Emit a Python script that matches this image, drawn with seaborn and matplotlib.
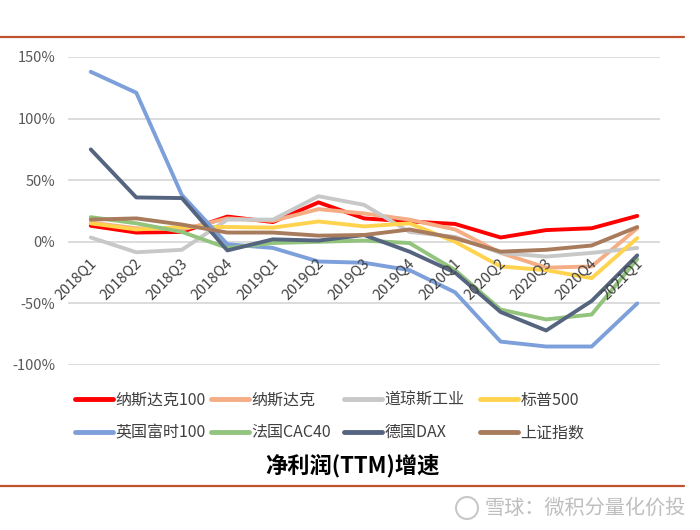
import matplotlib
matplotlib.use("Agg")
import matplotlib.pyplot as plt
import matplotlib.transforms as mtransforms
from matplotlib.lines import Line2D
from matplotlib.patches import Ellipse
import seaborn as sns
import pandas as pd

quarters = ['2018Q1', '2018Q2', '2018Q3', '2018Q4', '2019Q1', '2019Q2', '2019Q3',
            '2019Q4', '2020Q1', '2020Q2', '2020Q3', '2020Q4', '2021Q1']

nasdaq100 = [13, 7.5, 8, 20.5, 16, 32, 19, 16.5, 14.5, 3.5, 9.5, 11, 21]
nasdaq = [15.5, 11, 10, 19, 17, 26.5, 23, 18, 10, -9, -21, -20, 11]
dow = [3.5, -8.5, -6.5, 18, 18, 37, 30, 8, 4, -9, -12, -9, -5]
sp500 = [15, 10, 12, 12, 11.5, 16.5, 12.5, 15, 0, -20, -23, -29.5, 3]
ftse100 = [138, 121, 38, -2, -5, -16, -17, -23, -41, -81, -85, -85, -50]
cac40 = [20, 15, 8, -5, -1, 0, 1, -1, -23, -55, -63, -59, -14]
dax = [75, 36, 35.5, -7, 2, 1, 5.5, -8, -25, -57, -72, -48, -11]
sse = [18, 19, 14, 7.5, 7.5, 5, 5.5, 10, 3, -8, -6.5, -3, 12]

series_names = ['纳斯达克100', '纳斯达克', '道琼斯工业', '标普500',
                '英国富时100', '法国CAC40', '德国DAX', '上证指数']
series_values = [nasdaq100, nasdaq, dow, sp500, ftse100, cac40, dax, sse]
series_colors = ['#FF0000', '#F4AD84', '#C8C8C8', '#FFD34E',
                 '#7DA0DB', '#93C47D', '#56657F', '#A87B5C']

yticks = [-100, -50, 0, 50, 100, 150]
ytick_labels = ['-100%', '-50%', '0%', '50%', '100%', '150%']

title = '净利润(TTM)增速'
watermark = '雪球：微积分量化价投'

rows = []
for name, vals in zip(series_names, series_values):
    for q, v in zip(quarters, vals):
        rows.append({'quarter': q, 'value': v, 'series': name})
df = pd.DataFrame(rows)

sns.set_style('white')
plt.rcParams['font.family'] = ['Noto Sans CJK SC', 'DejaVu Sans']

fig = plt.figure(figsize=(7, 5.3), dpi=100)
W, H = 700, 530
ax = fig.add_axes([68 / W, 1 - 365 / H, 592 / W, 308 / H])

sns.lineplot(data=df, x='quarter', y='value', hue='series', hue_order=series_names,
             palette=dict(zip(series_names, series_colors)), linewidth=2.8,
             legend=False, ax=ax, sort=False)

ax.set_xlim(-0.5, len(quarters) - 0.5)
ax.set_ylim(-100, 150)
ax.set_yticks(yticks)
ax.set_yticklabels(ytick_labels, color='#595959', fontsize=10.5)
ax.tick_params(axis='y', length=0, pad=9)
ax.set_xticks(range(len(quarters)))
ax.set_xticklabels([])
ax.tick_params(axis='x', length=0)
ax.set_xlabel('')
ax.set_ylabel('')
for s in ax.spines.values():
    s.set_visible(False)
ax.grid(False)
for yv in yticks:
    ax.axhline(yv, color='#D9D9D9', lw=1.3, zorder=0)

# category labels just below zero line
for i, q in enumerate(quarters):
    tr = mtransforms.offset_copy(ax.transData, fig=fig, x=2.5, y=-14, units='points')
    ax.text(i, 0, q, transform=tr, rotation=45, ha='right', va='center',
            rotation_mode='anchor', fontsize=10.5, color='#404040')

# legends (4 columns, 2 rows each)
col_x = [74.5, 211, 343.5, 480]
for c in range(4):
    idx = [c, c + 4]
    handles = [Line2D([0], [0], color=series_colors[k], lw=3.5) for k in idx]
    labels = [series_names[k] for k in idx]
    leg = fig.legend(handles, labels, loc='upper left',
                     bbox_to_anchor=(col_x[c] / W, 1 - 392 / H),
                     bbox_transform=fig.transFigure, frameon=False,
                     fontsize=11.5, handlelength=2.4, handletextpad=0.15,
                     labelspacing=0.95, borderpad=0, borderaxespad=0,
                     labelcolor='#404040')

fig.text(0.504, 1 - 466 / H, title, ha='center', va='center', fontsize=16,
         fontweight='bold', color='black')

# decorative red rules
fig.add_artist(Line2D([0, 684 / W], [1 - 37 / H, 1 - 37 / H], color='#C0522E', lw=1.6,
                      transform=fig.transFigure))
fig.add_artist(Line2D([0, 684 / W], [1 - 486 / H, 1 - 486 / H], color='#C0522E', lw=1.6,
                      transform=fig.transFigure))

# watermark
fig.add_artist(Ellipse((467 / W, 1 - 508 / H), 22 / W, 22 / H, transform=fig.transFigure,
                       fill=False, ec='#C8C8C8', lw=1.5))
fig.text(484 / W, 1 - 508 / H, watermark, ha='left', va='center', fontsize=14.5,
         color='#BEBEBE')

fig.savefig('out.png', dpi=100)
